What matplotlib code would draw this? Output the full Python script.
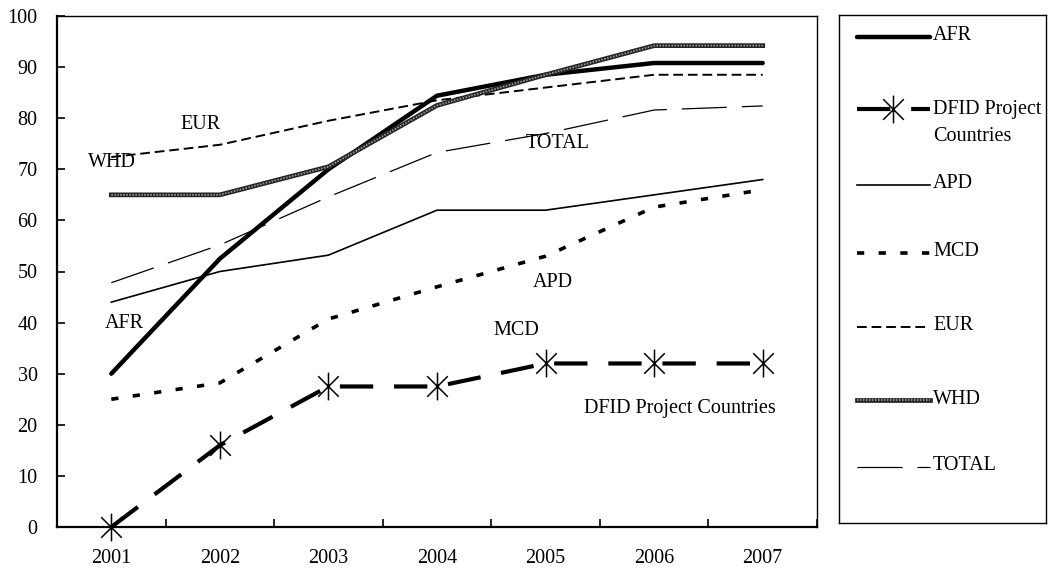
import matplotlib.pyplot as plt
from matplotlib.path import Path

plt.rcParams['font.family'] = ['Liberation Serif', 'DejaVu Serif']
plt.rcParams['font.size'] = 14.5

years = ['2001', '2002', '2003', '2004', '2005', '2006', '2007']
afr = [30, 52.5, 70, 84.4, 88.5, 90.8, 90.8]
dfid = [0, 16, 27.5, 27.5, 32, 32, 32]
apd = [44, 50, 53.2, 62, 62, 65, 68]
mcd = [25, 28.2, 40.7, 47, 53, 62.6, 66]
eur = [72.4, 74.8, 79.5, 83.5, 86, 88.5, 88.5]
whd = [65, 65, 70.5, 82.5, 88.5, 94.2, 94.2]
total = [47.8, 55.2, 64.6, 73.3, 77, 81.6, 82.4]

series_names = ['AFR', 'DFID Project\nCountries', 'APD', 'MCD', 'EUR', 'WHD', 'TOTAL']
series_vals = [afr, dfid, apd, mcd, eur, whd, total]

# in-chart labels: (text, x category, y value)
labels = [('EUR', 0.82, 78.7), ('WHD', 0.01, 71.4), ('AFR', 0.12, 39.9),
          ('TOTAL', 4.11, 75.1), ('APD', 4.07, 47.9), ('MCD', 3.73, 38.4),
          ('DFID Project Countries', 5.24, 23.1)]

# asterisk marker like excel's
star = Path([(-1, -1), (1, 1), (-1, 1), (1, -1), (0, -1.35), (0, 1.35)],
            [Path.MOVETO, Path.LINETO, Path.MOVETO, Path.LINETO, Path.MOVETO, Path.LINETO])

styles = [
    [dict(color='black', lw=3.2, solid_capstyle='round')],
    [dict(color='black', lw=3, dashes=[8, 5], marker=star, ms=20, mew=1.1, mfc='none', mec='black')],
    [dict(color='black', lw=1.2)],
    [dict(color='black', lw=2.6, dashes=[2, 4])],
    [dict(color='black', lw=1.4, dashes=[5, 2.5])],
    [dict(color='#252525', lw=3.4), dict(color='#a0a0a0', lw=1.2, dashes=[0.9, 0.9])],
    [dict(color='black', lw=0.9, dashes=[36, 12])],
]

fig = plt.figure(figsize=(10.53, 5.76), dpi=100)
ax = fig.add_axes([57 / 1053, 49 / 576, 760 / 1053, 511 / 576])

x = list(range(len(years)))
for vals, st in zip(series_vals, styles):
    for s in st:
        ax.plot(x, vals, clip_on=False, **s)

for txt, lx, ly in labels:
    ax.text(lx, ly, txt, ha='center', va='center')

ax.set_xlim(-0.5, 6.5)
ax.set_ylim(0, 100)
ax.set_yticks(range(0, 101, 10))
ax.set_xticks([i - 0.5 for i in range(len(years) + 1)])
ax.set_xticklabels([])
ax.set_xticks(x, minor=True)
ax.set_xticklabels(years, minor=True)
ax.tick_params(axis='both', which='major', direction='in', length=6, width=1.2)
ax.tick_params(axis='y', pad=14)
ax.tick_params(axis='x', which='minor', length=0, pad=16)
for side in ['left', 'bottom']:
    ax.spines[side].set_linewidth(1.6)
for side in ['top', 'right']:
    ax.spines[side].set_linewidth(1.0)

# legend drawn by hand so entries stay evenly spaced like the original
lax = fig.add_axes([839 / 1053, 53 / 576, 207 / 1053, 508 / 576])
lax.set_xlim(839, 1046)
lax.set_ylim(523, 15)
lax.set_xticks([])
lax.set_yticks([])
for sp in lax.spines.values():
    sp.set_linewidth(1.0)
entry_y = [37, 109, 185, 253, 327, 400, 467]
for name, st, ey in zip(series_names, styles, entry_y):
    for s in st:
        s2 = dict(s)
        if 'marker' in s2:
            s2['markevery'] = [1]
            lax.plot([857, 893, 930], [ey, ey, ey], **s2)
        else:
            lax.plot([857, 930], [ey, ey], **s2)
    lax.text(933, ey - 1 if '\n' not in name else ey + 14, name, ha='left',
             va='center', linespacing=1.6)

fig.savefig('out.png', dpi=100)
